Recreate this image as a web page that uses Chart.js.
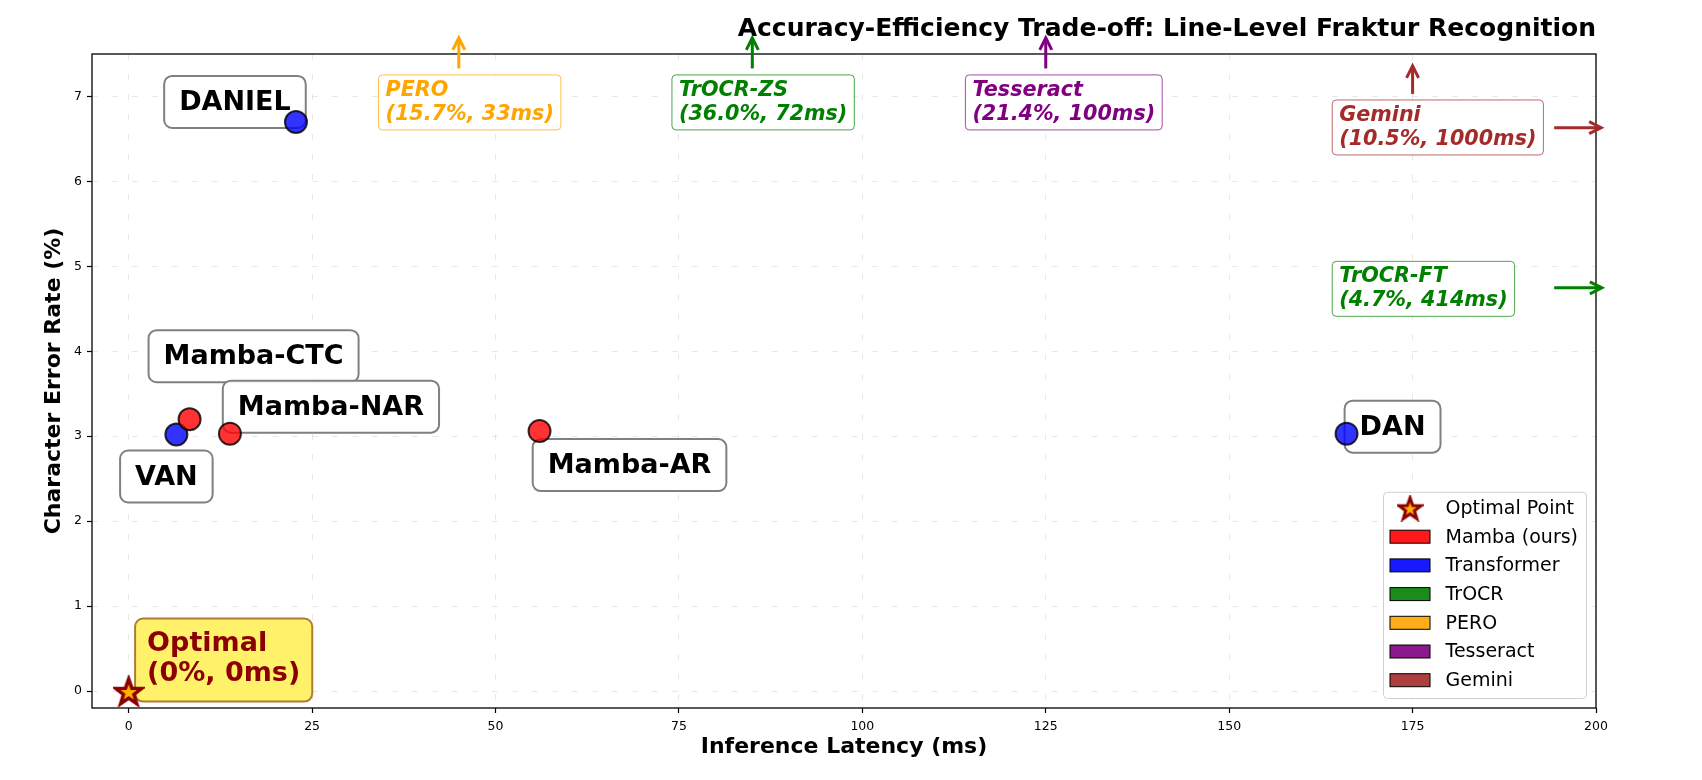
<!DOCTYPE html>
<html>
<head>
<meta charset="utf-8">
<script src="https://cdn.jsdelivr.net/npm/chart.js@4.4.1/dist/chart.umd.min.js"></script>
<style>
  html, body { margin: 0; padding: 0; background: #fff; }
  canvas { display: block; }
</style>
</head>
<body>
<canvas id="tradeoffChart" width="1702" height="780"></canvas>
<script>
// Données (latence en ms, CER en %)
const mambaModels = ["Mamba-CTC", "Mamba-NAR", "Mamba-AR"];
const mambaLatency = [8.3, 13.8, 56.0];
const mambaCer = [3.2, 3.03, 3.06];

const transformerModels = ["VAN", "DANIEL", "DAN"];
const transformerLatency = [6.5, 22.8, 166.0];
const transformerCer = [3.02, 6.7, 3.03];

// Modèles hors de la zone affichée (signalés par une flèche)
const trocrModels = ["TrOCR-ZS", "TrOCR-FT"];
const trocrLatency = [72, 414];
const trocrCer = [36.0, 4.7];
const peroLatency = [33];
const peroCer = [15.7];
const tesseractLatency = [100];
const tesseractCer = [21.4];
const geminiLatency = [1000];
const geminiCer = [10.5];

const optimalLatency = [0];
const optimalCer = [0];

const xTickValues = [0, 25, 50, 75, 100, 125, 150, 175, 200];
const yTickValues = [0, 1, 2, 3, 4, 5, 6, 7];

// Couleurs par famille
const familyColors = {
    mamba: "#FF0000",
    transformer: "#0000FF",
    trocr: "#008000",
    pero: "#FFA500",
    tesseract: "#800080",
    gemini: "#A52A2A"
};

const FONT = "'DejaVu Sans', sans-serif";
Chart.defaults.font.family = FONT;
Chart.defaults.color = "#000";

// Décalage (px) du centre de l'étiquette par rapport au point
const labelOffsets = {
    "Mamba-CTC": [64, -63],
    "Mamba-NAR": [101, -27],
    "Mamba-AR": [90, 34],
    "VAN": [-10, 42],
    "DANIEL": [-61, -20],
    "DAN": [46, -7]
};

// Annotations des modèles hors limites : position du texte et flèches (coordonnées des axes)
const offChartNotes = [
    { name: "PERO", lat: peroLatency[0], cer: peroCer[0], color: familyColors.pero,
      textAt: [35, 6.93], arrows: [[45, 7.33, 45, 7.69]] },
    { name: trocrModels[0], lat: trocrLatency[0], cer: trocrCer[0], color: familyColors.trocr,
      textAt: [75, 6.93], arrows: [[85, 7.33, 85, 7.69]] },
    { name: "Tesseract", lat: tesseractLatency[0], cer: tesseractCer[0], color: familyColors.tesseract,
      textAt: [115, 6.93], arrows: [[125, 7.33, 125, 7.69]] },
    { name: "Gemini", lat: geminiLatency[0], cer: geminiCer[0], color: familyColors.gemini,
      textAt: [165, 6.635], arrows: [[175, 7.03, 175, 7.36], [194.3, 6.633, 200.7, 6.633]] },
    { name: trocrModels[1], lat: trocrLatency[1], cer: trocrCer[1], color: familyColors.trocr,
      textAt: [165, 4.735], arrows: [[194.3, 4.747, 200.8, 4.747]] }
];

function toPoints(xs, ys, names) {
    return xs.map((x, i) => ({ x: x, y: ys[i], name: names ? names[i] : "" }));
}

function hexToRgba(hex, a) {
    const n = parseInt(hex.slice(1), 16);
    return `rgba(${(n >> 16) & 255},${(n >> 8) & 255},${n & 255},${a})`;
}

// Etoile à 5 branches utilisée comme pointStyle
function makeStar(size, lineWidth) {
    const c = document.createElement("canvas");
    c.width = size;
    c.height = size;
    const g = c.getContext("2d");
    const cx = size / 2, cy = size / 2 + size * 0.05;
    const outer = size / 2 - lineWidth / 2 - 0.5;
    const inner = outer * 0.4;
    g.beginPath();
    for (let i = 0; i < 10; i++) {
        const r = i % 2 ? inner : outer;
        const a = -Math.PI / 2 + i * Math.PI / 5;
        g.lineTo(cx + r * Math.cos(a), cy + r * Math.sin(a));
    }
    g.closePath();
    g.fillStyle = "#FFB300";
    g.fill();
    g.lineWidth = lineWidth;
    g.lineJoin = "miter";
    g.strokeStyle = "#8B0000";
    g.stroke();
    return c;
}

function roundRect(ctx, x, y, w, h, r) {
    ctx.beginPath();
    ctx.moveTo(x + r, y);
    ctx.lineTo(x + w - r, y);
    ctx.arcTo(x + w, y, x + w, y + r, r);
    ctx.lineTo(x + w, y + h - r);
    ctx.arcTo(x + w, y + h, x + w - r, y + h, r);
    ctx.lineTo(x + r, y + h);
    ctx.arcTo(x, y + h, x, y + h - r, r);
    ctx.lineTo(x, y + r);
    ctx.arcTo(x, y, x + r, y, r);
    ctx.closePath();
}

function drawArrow(ctx, x1, y1, x2, y2, color) {
    const ang = Math.atan2(y2 - y1, x2 - x1);
    const head = 12, half = 6;
    ctx.save();
    ctx.strokeStyle = color;
    ctx.lineWidth = 3;
    ctx.lineCap = "butt";
    ctx.beginPath();
    ctx.moveTo(x1, y1);
    ctx.lineTo(x2, y2);
    ctx.stroke();
    ctx.beginPath();
    ctx.moveTo(x2 - head * Math.cos(ang) + half * Math.sin(ang), y2 - head * Math.sin(ang) - half * Math.cos(ang));
    ctx.lineTo(x2, y2);
    ctx.lineTo(x2 - head * Math.cos(ang) - half * Math.sin(ang), y2 - head * Math.sin(ang) + half * Math.cos(ang));
    ctx.stroke();
    ctx.restore();
}

// Plugin : cadre, étiquettes et annotations (sous les points)
const annotationsPlugin = {
    id: "annotations",
    beforeDatasetsDraw(chart) {
        const ctx = chart.ctx;
        const xs = chart.scales.x, ys = chart.scales.y;
        const area = chart.chartArea;

        ctx.save();
        ctx.strokeStyle = "#000";
        ctx.lineWidth = 1.3;
        ctx.strokeRect(area.left, area.top, area.right - area.left, area.bottom - area.top);

        // Etiquettes des modèles affichés
        ctx.font = "bold 27px " + FONT;
        ctx.textAlign = "center";
        ctx.textBaseline = "middle";
        chart.data.datasets.forEach(ds => {
            if (!ds.showNames) return;
            ds.data.forEach(p => {
                const off = labelOffsets[p.name];
                const cx = xs.getPixelForValue(p.x) + off[0];
                const cy = ys.getPixelForValue(p.y) + off[1];
                const w = ctx.measureText(p.name).width + 30, h = 52;
                roundRect(ctx, cx - w / 2, cy - h / 2, w, h, 8);
                ctx.fillStyle = "rgba(255,255,255,0.9)";
                ctx.fill();
                ctx.lineWidth = 2;
                ctx.strokeStyle = "#808080";
                ctx.stroke();
                ctx.fillStyle = "#000";
                ctx.fillText(p.name, cx, cy + 1);
            });
        });

        // Point optimal
        const opt = chart.data.datasets[0].data[0];
        const ox = xs.getPixelForValue(opt.x) + 95, oy = ys.getPixelForValue(opt.y) - 31;
        const optLines = ["Optimal", `(${opt.y}%, ${opt.x}ms)`];
        ctx.font = "bold 27px " + FONT;
        const ow = Math.max(...optLines.map(t => ctx.measureText(t).width)) + 24, oh = 83;
        roundRect(ctx, ox - ow / 2, oy - oh / 2, ow, oh, 8);
        ctx.fillStyle = "rgba(255,240,80,0.85)";
        ctx.fill();
        ctx.lineWidth = 2;
        ctx.strokeStyle = "#B07A35";
        ctx.stroke();
        ctx.fillStyle = "#8B0000";
        ctx.textAlign = "left";
        ctx.fillText(optLines[0], ox - ow / 2 + 12, oy - 16);
        ctx.fillText(optLines[1], ox - ow / 2 + 12, oy + 14);

        // Modèles hors limites
        ctx.font = "italic bold 20.7px " + FONT;
        offChartNotes.forEach(n => {
            const lines = [n.name, `(${n.cer.toFixed(1)}%, ${n.lat}ms)`];
            const tx = xs.getPixelForValue(n.textAt[0]);
            const cy = ys.getPixelForValue(n.textAt[1]);
            const w = Math.max(...lines.map(t => ctx.measureText(t).width)) + 14, h = 55;
            roundRect(ctx, tx - 7, cy - h / 2, w, h, 4);
            ctx.fillStyle = "rgba(255,255,255,0.85)";
            ctx.fill();
            ctx.lineWidth = 1;
            ctx.strokeStyle = hexToRgba(n.color, 0.7);
            ctx.stroke();
            ctx.fillStyle = n.color;
            ctx.textAlign = "left";
            ctx.fillText(lines[0], tx, cy - 12);
            ctx.fillText(lines[1], tx, cy + 12);
            n.arrows.forEach(a => {
                drawArrow(ctx, xs.getPixelForValue(a[0]), ys.getPixelForValue(a[1]),
                    xs.getPixelForValue(a[2]), ys.getPixelForValue(a[3]), n.color);
            });
        });
        ctx.restore();
    },
    afterDraw(chart) {
        // Légende dans le coin inférieur droit
        const ctx = chart.ctx;
        const area = chart.chartArea;
        const items = chart.data.datasets;
        ctx.save();
        ctx.font = "19px " + FONT;
        const maxText = Math.max(...items.map(d => ctx.measureText(d.label).width));
        const rowH = 28.7;
        const w = 6.5 + 40 + 15.5 + maxText + 8.5;
        const h = 15.7 + rowH * (items.length - 1) + 18.3;
        const left = area.right - 9.5 - w, top = area.bottom - 9.5 - h;
        roundRect(ctx, left, top, w, h, 4);
        ctx.fillStyle = "rgba(255,255,255,0.85)";
        ctx.fill();
        ctx.lineWidth = 1;
        ctx.strokeStyle = "#d0d0d0";
        ctx.stroke();
        ctx.textAlign = "left";
        ctx.textBaseline = "middle";
        items.forEach((d, i) => {
            const cy = top + 15.7 + i * rowH;
            const px = left + 6.5;
            if (d.legendStar) {
                ctx.drawImage(d.legendStar, px + 20 - d.legendStar.width / 2, cy - d.legendStar.height / 2);
            } else {
                ctx.fillStyle = d.legendColor;
                ctx.fillRect(px, cy - 6.5, 40, 13);
                ctx.lineWidth = 1;
                ctx.strokeStyle = "#000";
                ctx.strokeRect(px, cy - 6.5, 40, 13);
            }
            ctx.fillStyle = "#000";
            ctx.fillText(d.label, px + 55.5, cy + 1);
        });
        ctx.restore();
    }
};

const pointBase = { pointRadius: 11, pointHoverRadius: 11, pointBorderWidth: 2, pointBorderColor: "rgba(0,0,0,0.8)" };

const tradeoffChart = new Chart(document.getElementById("tradeoffChart").getContext("2d"), {
    type: "scatter",
    data: {
        datasets: [
            { label: "Optimal Point", data: toPoints(optimalLatency, optimalCer),
              pointStyle: makeStar(32, 3.5), legendStar: makeStar(27, 3), pointRadius: 14 },
            Object.assign({ label: "Mamba (ours)", data: toPoints(mambaLatency, mambaCer, mambaModels),
              pointBackgroundColor: hexToRgba(familyColors.mamba, 0.8), legendColor: hexToRgba(familyColors.mamba, 0.9),
              showNames: true }, pointBase),
            Object.assign({ label: "Transformer", data: toPoints(transformerLatency, transformerCer, transformerModels),
              pointBackgroundColor: hexToRgba(familyColors.transformer, 0.8), legendColor: hexToRgba(familyColors.transformer, 0.9),
              showNames: true }, pointBase),
            Object.assign({ label: "TrOCR", data: toPoints(trocrLatency, trocrCer, trocrModels),
              pointBackgroundColor: familyColors.trocr, legendColor: hexToRgba(familyColors.trocr, 0.9) }, pointBase),
            Object.assign({ label: "PERO", data: toPoints(peroLatency, peroCer),
              pointBackgroundColor: familyColors.pero, legendColor: hexToRgba(familyColors.pero, 0.9) }, pointBase),
            Object.assign({ label: "Tesseract", data: toPoints(tesseractLatency, tesseractCer),
              pointBackgroundColor: familyColors.tesseract, legendColor: hexToRgba(familyColors.tesseract, 0.9) }, pointBase),
            Object.assign({ label: "Gemini", data: toPoints(geminiLatency, geminiCer),
              pointBackgroundColor: familyColors.gemini, legendColor: hexToRgba(familyColors.gemini, 0.9) }, pointBase)
        ]
    },
    options: {
        responsive: false,
        animation: false,
        layout: { padding: { top: 0, right: 106, bottom: 0, left: 0 } },
        plugins: {
            legend: { display: false },
            tooltip: { enabled: false },
            title: {
                display: true,
                text: "Accuracy-Efficiency Trade-off: Line-Level Fraktur Recognition",
                align: "end",
                color: "#000",
                font: { size: 25, weight: "bold" },
                padding: { top: 14, bottom: 10 }
            }
        },
        scales: {
            x: {
                type: "linear",
                min: -5,
                max: 200,
                afterBuildTicks: (scale) => { scale.ticks = xTickValues.map(v => ({ value: v })); },
                afterFit: (scale) => { scale.height = 72; },
                ticks: { font: { size: 12.5 }, color: "#000", padding: 6, maxRotation: 0, autoSkip: false },
                grid: { color: "rgba(0,0,0,0.09)", lineWidth: 1, tickColor: "#000", tickLength: 5, tickWidth: 1.2 },
                border: { display: false, dash: [6, 14] },
                title: { display: true, text: "Inference Latency (ms)", color: "#000",
                         font: { size: 22, weight: "bold" }, padding: { top: 0, bottom: 20 } }
            },
            y: {
                type: "linear",
                min: -0.2,
                max: 7.5,
                afterBuildTicks: (scale) => { scale.ticks = yTickValues.map(v => ({ value: v })); },
                afterFit: (scale) => { scale.width = 92; },
                ticks: { font: { size: 12.5 }, color: "#000", padding: 5, autoSkip: false },
                grid: { color: "rgba(0,0,0,0.09)", lineWidth: 1, tickColor: "#000", tickLength: 5, tickWidth: 1.2 },
                border: { display: false, dash: [6, 14] },
                title: { display: true, text: "Character Error Rate (%)", color: "#000",
                         font: { size: 22, weight: "bold" }, padding: { top: 41, bottom: 0 } }
            }
        }
    },
    plugins: [annotationsPlugin]
});
</script>
</body>
</html>
